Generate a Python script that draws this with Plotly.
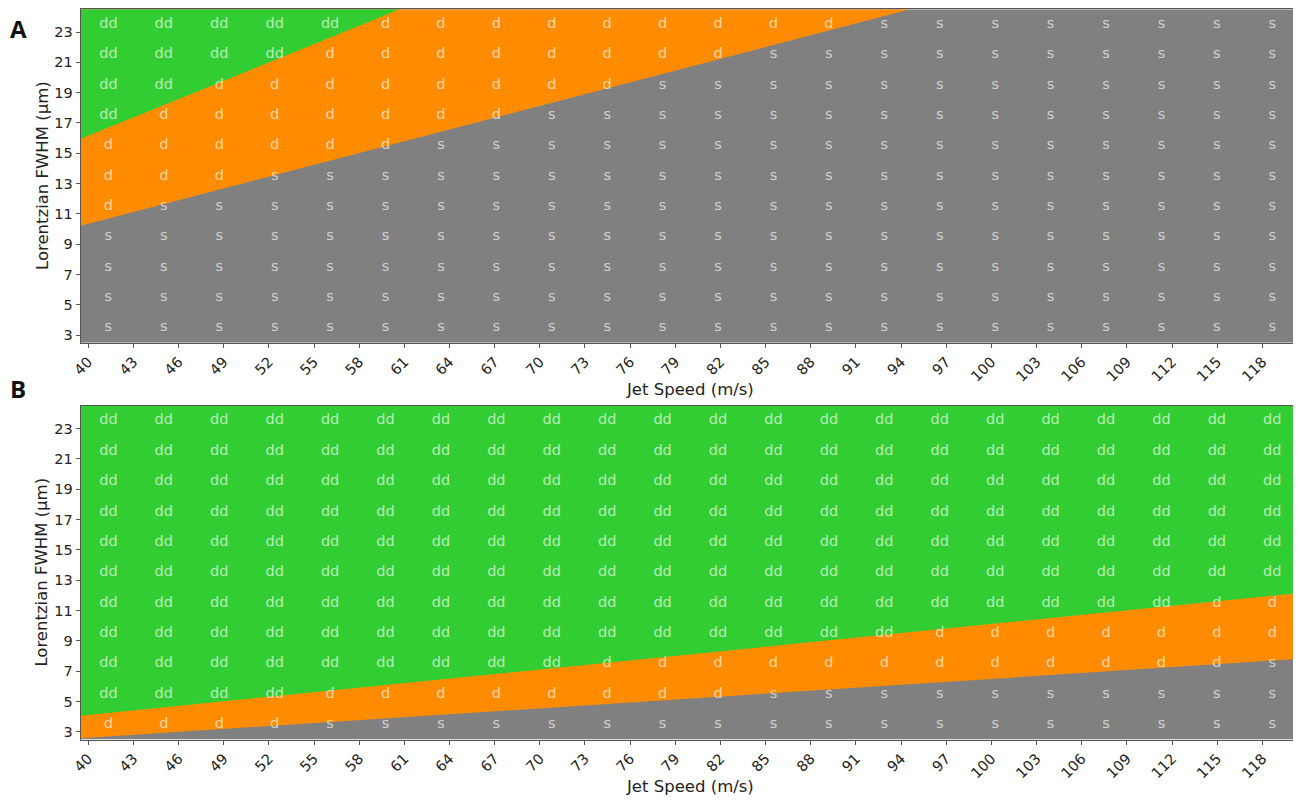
import numpy as np
import plotly.graph_objects as go

# ---------------- data ----------------
jet_speed_ticks = list(range(40, 119, 3))          # 40, 43, ..., 118
fwhm_ticks = list(range(3, 24, 2))                 # 3, 5, ..., 23
x_extent = [39.5, 120.5]
y_extent = [2.5, 24.5]
n_cols = 22
fwhm_rows_top_down = [23.5, 21.5, 19.5, 17.5, 15.5, 13.5, 11.5, 9.5, 7.5, 5.5, 3.5]

# region boundaries (endpoints)
A_orange_gray_x = [39.5, 94.6]
A_orange_gray_y = [10.22, 24.5]
A_green_orange_x = [39.5, 60.7]
A_green_orange_y = [15.95, 24.5]
B_orange_gray_x = [39.5, 120.5]
B_orange_gray_y = [2.58, 7.82]
B_green_orange_x = [39.5, 120.5]
B_green_orange_y = [4.07, 12.16]

# label grid per row (top to bottom): number of "dd" cells, then "d" cells, rest "s"
A_dd_counts = [5, 4, 2, 1, 0, 0, 0, 0, 0, 0, 0]
A_d_counts = [9, 8, 8, 7, 6, 3, 1, 0, 0, 0, 0]
B_dd_counts = [22, 22, 22, 22, 22, 22, 20, 15, 9, 4, 0]
B_d_counts = [0, 0, 0, 0, 0, 0, 2, 7, 12, 8, 4]

# ---------------- style ----------------
GREEN = "#32cd32"
ORANGE = "#ff8c00"
GRAY = "#808080"
TXT = "rgba(255,255,255,0.65)"
FONT = "DejaVu Sans"
OFF = 8                      # page body margin
W, H = 1301 - OFF, 800 - OFF


def px_x(p):
    return (p - OFF) / W


def px_y(p):
    return 1 - (p - OFF) / H


fig = go.Figure()


def polygon_above(bx, by):
    xs = list(bx)
    ys = list(by)
    if ys[-1] < y_extent[1]:
        xs.append(x_extent[1])
        ys.append(y_extent[1])
    xs.append(x_extent[0])
    ys.append(y_extent[1])
    return xs, ys


def add_panel(xa, ya, og_x, og_y, go_x, go_y, dd_counts, d_counts):
    fig.add_trace(go.Scatter(
        x=[x_extent[0], x_extent[1], x_extent[1], x_extent[0]],
        y=[y_extent[0], y_extent[0], y_extent[1], y_extent[1]],
        fill="toself", fillcolor=GRAY, mode="lines", line=dict(width=0),
        hoverinfo="skip", showlegend=False, xaxis=xa, yaxis=ya))
    px, py = polygon_above(og_x, og_y)
    fig.add_trace(go.Scatter(x=px, y=py, fill="toself", fillcolor=ORANGE,
                             mode="lines", line=dict(width=0), hoverinfo="skip",
                             showlegend=False, xaxis=xa, yaxis=ya))
    px, py = polygon_above(go_x, go_y)
    fig.add_trace(go.Scatter(x=px, y=py, fill="toself", fillcolor=GREEN,
                             mode="lines", line=dict(width=0), hoverinfo="skip",
                             showlegend=False, xaxis=xa, yaxis=ya))
    cw = (x_extent[1] - x_extent[0]) / n_cols
    col_x = [x_extent[0] + (i + 0.5) * cw for i in range(n_cols)]
    tx, ty, tt = [], [], []
    for r, yv in enumerate(fwhm_rows_top_down):
        for c in range(n_cols):
            if c < dd_counts[r]:
                lab = "dd"
            elif c < dd_counts[r] + d_counts[r]:
                lab = "d"
            else:
                lab = "s"
            tx.append(col_x[c])
            ty.append(yv)
            tt.append(lab)
    fig.add_trace(go.Scatter(x=tx, y=ty, text=tt, mode="text",
                             textposition="middle center",
                             textfont=dict(family=FONT, size=14.5, color=TXT),
                             hoverinfo="skip", showlegend=False,
                             xaxis=xa, yaxis=ya))


add_panel("x", "y", A_orange_gray_x, A_orange_gray_y, A_green_orange_x,
          A_green_orange_y, A_dd_counts, A_d_counts)
add_panel("x2", "y2", B_orange_gray_x, B_orange_gray_y, B_green_orange_x,
          B_green_orange_y, B_dd_counts, B_d_counts)

x_dom = [px_x(80.7), min(1.0, px_x(1300))]
yA_dom = [px_y(342.7), px_y(9.3)]
yB_dom = [px_y(739.5), px_y(405.7)]

axis_common = dict(showgrid=False, zeroline=False, showline=True, mirror=True,
                   linecolor="#555555", linewidth=1, ticks="outside", ticklen=4,
                   tickcolor="#555555", automargin=False,
                   tickfont=dict(family=FONT, size=14.5, color="#222222"))

fig.update_layout(
    width=W, height=H,
    margin=dict(l=0, r=0, t=0, b=0, autoexpand=False),
    paper_bgcolor="white", plot_bgcolor="white",
    xaxis=dict(domain=x_dom, range=x_extent, tickvals=jet_speed_ticks,
               tickangle=-45, anchor="y", **axis_common),
    yaxis=dict(domain=yA_dom, range=y_extent, tickvals=fwhm_ticks, anchor="x",
               **axis_common),
    xaxis2=dict(domain=x_dom, range=x_extent, tickvals=jet_speed_ticks,
                tickangle=-45, anchor="y2", **axis_common),
    yaxis2=dict(domain=yB_dom, range=y_extent, tickvals=fwhm_ticks, anchor="x2",
                **axis_common),
)

title_font = dict(family=FONT, size=16.5, color="#222222")
ann = []
for ycen_px, xt_px in [(176, 390), (572.6, 786)]:
    ann.append(dict(text="Lorentzian FWHM (μm)", x=px_x(42), y=px_y(ycen_px),
                    xref="paper", yref="paper", showarrow=False, textangle=-90,
                    font=title_font, xanchor="center", yanchor="middle"))
    ann.append(dict(text="Jet Speed (m/s)", x=px_x(690), y=px_y(xt_px),
                    xref="paper", yref="paper", showarrow=False,
                    font=title_font, xanchor="center", yanchor="middle"))
for lab, ypx in [("A", 29), ("B", 388)]:
    ann.append(dict(text="<b>%s</b>" % lab, x=px_x(18), y=px_y(ypx),
                    xref="paper", yref="paper", showarrow=False,
                    font=dict(family="Open Sans", size=24, color="#111111"),
                    xanchor="center", yanchor="middle"))
fig.update_layout(annotations=ann)

fig.write_html("out.html")
